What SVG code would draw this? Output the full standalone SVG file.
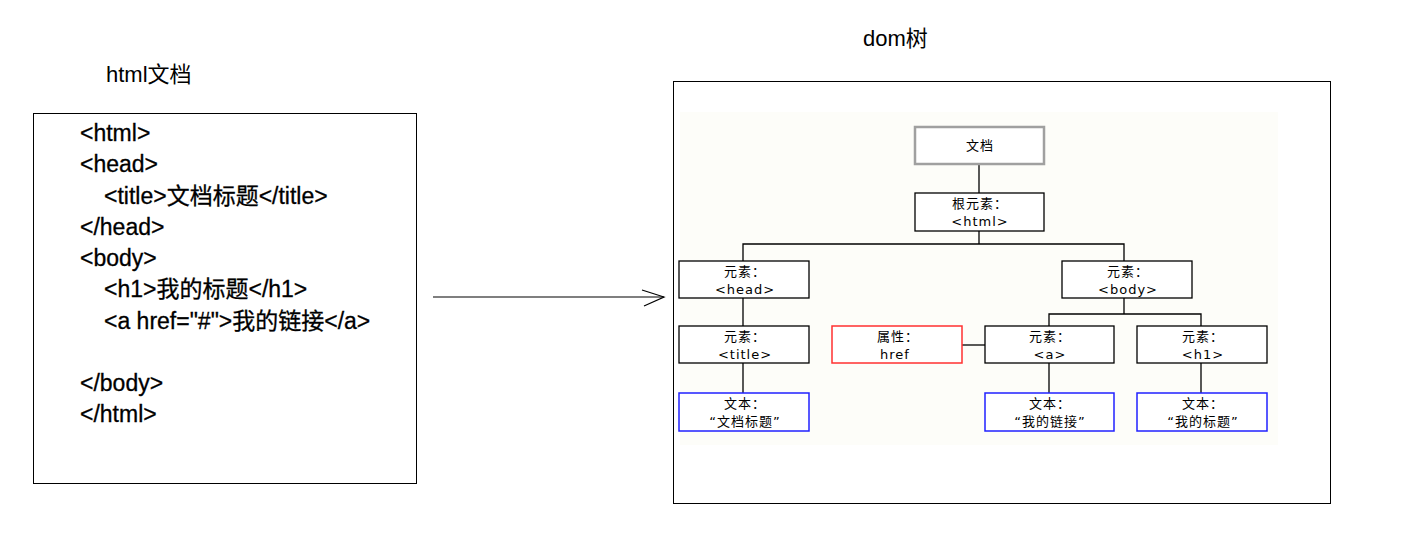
<svg xmlns="http://www.w3.org/2000/svg" width="1404" height="541" viewBox="0 0 1404 541">
<style>
.t{font-family:"Liberation Sans","Noto Sans CJK SC",sans-serif;fill:#000}
.title{font-size:22px}
.code{font-size:23px;stroke:#000;stroke-width:0.3}
.n{font-family:"DejaVu Sans","Noto Sans CJK SC",sans-serif;font-size:13px;letter-spacing:1px;fill:#000;text-anchor:middle}
.box{fill:#fff;stroke:#000;stroke-width:1.3}
.gray{fill:#fff;stroke:#a0a0a0;stroke-width:2.5}
.red{fill:#fff;stroke:#ff3030;stroke-width:1.5}
.blue{fill:#fff;stroke:#2020ff;stroke-width:1.5}
.c{fill:none;stroke:#000;stroke-width:1.3}
</style>
<rect width="1404" height="541" fill="#fff"/>
<g id="html-doc">
<text class="t title" x="106" y="82">html文档</text>
<rect x="33.5" y="113.5" width="383" height="370" fill="#fff" stroke="#000" stroke-width="1"/>
<text class="t code" x="80" y="141">&lt;html&gt;</text>
<text class="t code" x="80" y="172">&lt;head&gt;</text>
<text class="t code" x="104" y="204">&lt;title&gt;文档标题&lt;/title&gt;</text>
<text class="t code" x="80" y="235">&lt;/head&gt;</text>
<text class="t code" x="80" y="266">&lt;body&gt;</text>
<text class="t code" x="104" y="297">&lt;h1&gt;我的标题&lt;/h1&gt;</text>
<text class="t code" x="104" y="329">&lt;a href="#"&gt;我的链接&lt;/a&gt;</text>
<text class="t code" x="80" y="391">&lt;/body&gt;</text>
<text class="t code" x="80" y="422">&lt;/html&gt;</text>
</g>
<g id="arrow">
<line x1="433" y1="297" x2="664" y2="297" stroke="#000" stroke-width="1.2"/>
<polyline points="642,290 664,297 644,306" fill="none" stroke="#000" stroke-width="1.2"/>
</g>
<g id="dom-frame">
<text class="t title" x="863" y="46">dom树</text>
<rect x="673.5" y="81.5" width="657" height="422" fill="#fff" stroke="#000" stroke-width="1"/>
<rect x="680" y="112" width="598" height="333" fill="#fdfdf9"/>
</g>
<g id="connectors">
<line class="c" x1="979" y1="164" x2="979" y2="193"/>
<polyline class="c" points="979,231 979,244"/>
<polyline class="c" points="743,261 743,244 1124,244 1124,261"/>
<line class="c" x1="743" y1="298" x2="743" y2="326"/>
<line class="c" x1="743" y1="363" x2="743" y2="393"/>
<line class="c" x1="1124" y1="298" x2="1124" y2="314"/>
<polyline class="c" points="1049,326 1049,314 1201,314 1201,326"/>
<line class="c" x1="962" y1="345" x2="985" y2="345"/>
<line class="c" x1="1049" y1="363" x2="1049" y2="393"/>
<line class="c" x1="1201" y1="363" x2="1201" y2="393"/>
</g>
<g id="node-doc">
<rect class="gray" x="915" y="127" width="129" height="37"/>
<text class="n" x="980" y="150">文档</text>
</g>
<g id="node-html">
<rect class="box" x="915" y="193" width="129" height="38"/>
<text class="n" x="980" y="208">根元素：</text>
<text class="n" x="980" y="226">&lt;html&gt;</text>
</g>
<g id="node-head">
<rect class="box" x="679" y="261" width="130" height="37"/>
<text class="n" x="745" y="276">元素：</text>
<text class="n" x="745" y="294">&lt;head&gt;</text>
</g>
<g id="node-body">
<rect class="box" x="1062" y="261" width="130" height="37"/>
<text class="n" x="1128" y="276">元素：</text>
<text class="n" x="1128" y="294">&lt;body&gt;</text>
</g>
<g id="node-title">
<rect class="box" x="679" y="326" width="130" height="37"/>
<text class="n" x="745" y="341">元素：</text>
<text class="n" x="745" y="359">&lt;title&gt;</text>
</g>
<g id="node-href">
<rect class="red" x="832" y="326" width="130" height="37"/>
<text class="n" x="898" y="341">属性：</text>
<text class="n" x="895" y="359">href</text>
</g>
<g id="node-a">
<rect class="box" x="985" y="326" width="129" height="37"/>
<text class="n" x="1050" y="341">元素：</text>
<text class="n" x="1050" y="359">&lt;a&gt;</text>
</g>
<g id="node-h1">
<rect class="box" x="1137" y="326" width="130" height="37"/>
<text class="n" x="1203" y="341">元素：</text>
<text class="n" x="1203" y="359">&lt;h1&gt;</text>
</g>
<g id="text-title">
<rect class="blue" x="679" y="393" width="130" height="38"/>
<text class="n" x="745" y="408">文本：</text>
<text class="n" x="745" y="426">“文档标题”</text>
</g>
<g id="text-a">
<rect class="blue" x="985" y="393" width="129" height="38"/>
<text class="n" x="1050" y="408">文本：</text>
<text class="n" x="1050" y="426">“我的链接”</text>
</g>
<g id="text-h1">
<rect class="blue" x="1137" y="393" width="130" height="38"/>
<text class="n" x="1203" y="408">文本：</text>
<text class="n" x="1203" y="426">“我的标题”</text>
</g>
</svg>
